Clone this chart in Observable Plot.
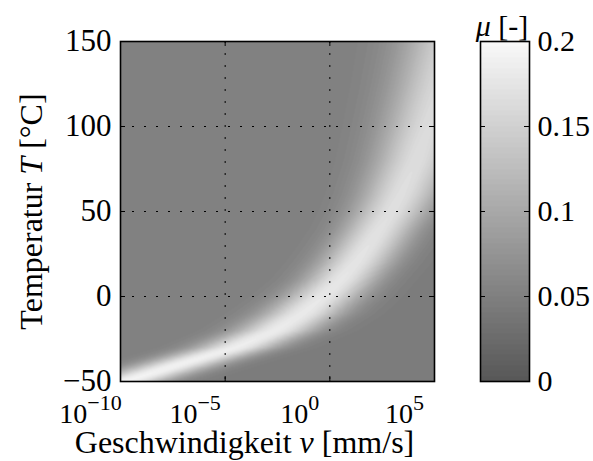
<!DOCTYPE html>
<html>
<head>
<meta charset="utf-8">
<script src="https://cdn.jsdelivr.net/npm/d3@7"></script>
<script src="https://cdn.jsdelivr.net/npm/@observablehq/plot@0.6"></script>
<style>
  html, body { margin: 0; padding: 0; background: #fff; }
  #fig { position: relative; width: 593px; height: 461px; overflow: hidden; }
  #fig svg { position: absolute; top: 0; }
</style>
</head>
<body>
<div id="fig"></div>
<script>
// Friction coefficient μ over sliding speed (log10 of mm/s) and temperature.
// The bright ridge is the friction maximum; it shifts to higher speeds as the
// temperature rises.
const tempC      = [-50, -40, -30, -20, -10, 0, 10, 20, 30, 40, 50, 60, 80, 100, 125, 150];
const ridgeLogV  = [-9.8, -7.2, -4.5, -2.6, -1.3, -0.3, 0.55, 1.25, 1.85, 2.4, 2.95, 3.4, 4.15, 4.75, 5.4, 6.0];
const ridgeMu    = [0.192, 0.19, 0.186, 0.183, 0.18, 0.178, 0.176, 0.174, 0.172, 0.17, 0.168, 0.167, 0.165, 0.163, 0.16, 0.158];
const ridgeWidth = [1.35, 1.35, 1.35, 1.35, 1.35, 1.3, 1.25, 1.25, 1.25, 1.25, 1.3, 1.35, 1.45, 1.55, 1.65, 1.75];
const muSlowSide = 0.05;   // level left of / above the ridge
const muFastSide = 0.045;  // level right of / below the ridge

// axes
const xTicks = [-10, -5, 0, 5];          // exponents of 10 (mm/s)
const yTicks = [-50, 0, 50, 100, 150];   // °C
const muTicks = [0, 0.05, 0.1, 0.15, 0.2];
const muTickLabels = ["0", "0.05", "0.1", "0.15", "0.2"];
const xTitle = "Geschwindigkeit v [mm/s]";
const yTitle = "Temperatur T [°C]";
const muTitle = "μ [-]";

const font = "'Liberation Serif', 'Times New Roman', serif";
const frameW = 314, frameH = 340;

const ridgeAt = d3.scaleLinear().domain(tempC).range(ridgeLogV).clamp(true);
const peakAt = d3.scaleLinear().domain(tempC).range(ridgeMu).clamp(true);
const widthAt = d3.scaleLinear().domain(tempC).range(ridgeWidth).clamp(true);
function mu(logV, T) {
  const d = logV - ridgeAt(T);
  const base = d < 0 ? muSlowSide : muFastSide;
  const s = widthAt(T);
  return base + (peakAt(T) - base) * Math.exp(-0.5 * (d / s) ** 2);
}

// 64-step gray colormap shared by the map and the colorbar
const colorScale = {
  type: "quantize",
  domain: [0, 0.2],
  range: d3.quantize(d3.interpolateRgb("#585858", "#f8f8f8"), 64)
};

const baseStyle = {fontFamily: font, fontSize: "30px", color: "black", background: "transparent", overflow: "visible"};

const main = Plot.plot({
  width: 470, height: 461,
  marginLeft: 120, marginRight: 36, marginTop: 41, marginBottom: 80,
  style: baseStyle,
  x: {domain: [-10, 5], axis: null},
  y: {domain: [-50, 150], axis: null},
  color: colorScale,
  marks: [
    Plot.raster({x1: -10, x2: 5, y1: -50, y2: 150, fill: (x, y) => mu(x, y), pixelSize: 1}),
    Plot.ruleX(xTicks.slice(1, -1), {x: d => d, stroke: "black", strokeWidth: 1, strokeDasharray: "2,10"}),
    Plot.ruleY(yTicks.slice(1, -1), {y: d => d, stroke: "black", strokeWidth: 1, strokeDasharray: "2,10"}),
    Plot.tickX(xTicks, {x: d => d, stroke: "black", insetTop: frameH - 5}),
    Plot.tickX(xTicks, {x: d => d, stroke: "black", insetBottom: frameH - 5}),
    Plot.tickY(yTicks, {y: d => d, stroke: "black", insetRight: frameW - 5}),
    Plot.tickY(yTicks, {y: d => d, stroke: "black", insetLeft: frameW - 5}),
    Plot.frame({stroke: "black", strokeWidth: 1.6}),
    Plot.text(yTicks, {y: d => d, frameAnchor: "left", text: d => d < 0 ? `\u2212${-d}` : `${d}`, textAnchor: "end", lineAnchor: "middle", dx: -9, fontSize: 31}),
    Plot.text(xTicks, {x: d => d, frameAnchor: "bottom", text: d => `10^${d}`, textAnchor: "middle", lineAnchor: "middle", dy: 33, dx: -30, fontSize: 28}),
    Plot.text([xTitle], {frameAnchor: "bottom", text: d => d, textAnchor: "middle", lineAnchor: "middle", dy: 61, dx: -33, fontSize: 32}),
    Plot.text([yTitle], {frameAnchor: "left", text: d => d, rotate: -90, textAnchor: "middle", lineAnchor: "middle", dx: -89, fontSize: 32})
  ]
});

const bar = Plot.plot({
  width: 153, height: 461,
  marginLeft: 40, marginRight: 64, marginTop: 41, marginBottom: 80,
  style: baseStyle,
  x: {domain: [0, 1], axis: null},
  y: {domain: [0, 0.2], axis: null},
  color: colorScale,
  marks: [
    Plot.raster({x1: 0, x2: 1, y1: 0, y2: 0.2, fill: (x, y) => y, pixelSize: 1}),
    Plot.tickY(muTicks, {y: d => d, stroke: "black", insetRight: 44}),
    Plot.tickY(muTicks, {y: d => d, stroke: "black", insetLeft: 44}),
    Plot.frame({stroke: "black", strokeWidth: 1.6}),
    Plot.text(muTicks, {y: d => d, frameAnchor: "right", text: (d, i) => muTickLabels[i], textAnchor: "start", lineAnchor: "middle", dx: 8, fontSize: 30}),
    Plot.text([muTitle], {frameAnchor: "top", text: d => d, textAnchor: "middle", lineAnchor: "middle", dy: -15, dx: -3, fontSize: 30})
  ]
});

const fig = document.getElementById("fig");
main.style.left = "0px";
bar.style.left = "440px";
fig.appendChild(main);
fig.appendChild(bar);

// mixed-style text: italic symbols and superscript exponents
const SVGNS = "http://www.w3.org/2000/svg";
function rich(el, parts) {
  el.textContent = "";
  for (const p of parts) {
    const ts = document.createElementNS(SVGNS, "tspan");
    ts.textContent = p.t;
    if (p.italic) ts.setAttribute("font-style", "italic");
    if (p.size) ts.setAttribute("font-size", p.size);
    if (p.dy) ts.setAttribute("dy", p.dy);
    el.appendChild(ts);
  }
}
for (const el of fig.querySelectorAll("text")) {
  const s = el.textContent;
  const m = /^10\^(-?\d+)$/.exec(s);
  if (m) {
    const e = +m[1];
    rich(el, [{t: "10"}, {t: e < 0 ? `\u2212${-e}` : `${e}`, size: 22, dy: -13}]);
  } else if (s === xTitle) {
    rich(el, [{t: "Geschwindigkeit "}, {t: "v", italic: true}, {t: " [mm/s]"}]);
  } else if (s === yTitle) {
    rich(el, [{t: "Temperatur "}, {t: "T", italic: true}, {t: " [°C]"}]);
  } else if (s === muTitle) {
    rich(el, [{t: "μ", italic: true}, {t: " [-]"}]);
  }
}
</script>
</body>
</html>
